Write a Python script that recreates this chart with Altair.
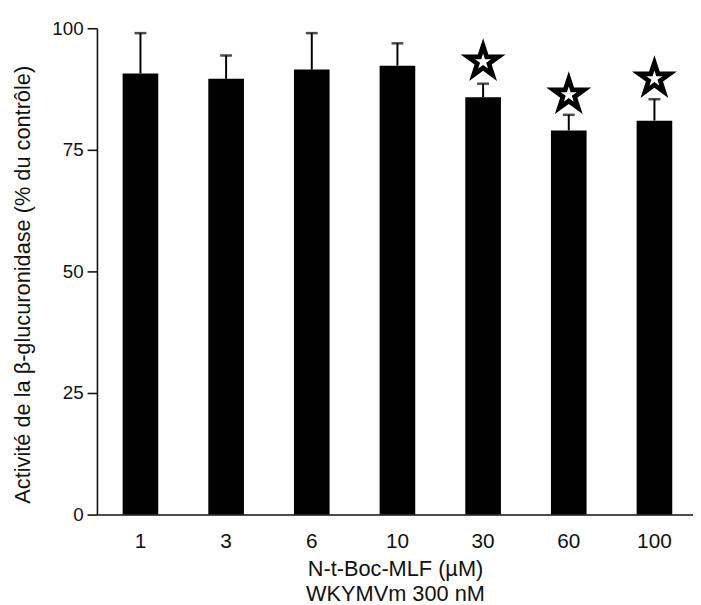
import math
import altair as alt
import pandas as pd

concentrations = ["1", "3", "6", "10", "30", "60", "100"]
activity = [90.7, 89.6, 91.5, 92.3, 85.8, 79.0, 81.0]
error_top = [99.0, 94.4, 99.0, 96.9, 88.6, 82.2, 85.4]
star_conc = ["30", "60", "100"]
star_pos = [93.1, 86.3, 89.6]

df = pd.DataFrame({"conc": concentrations, "activity": activity, "err": error_top})
df_star = pd.DataFrame({"conc": star_conc, "star": star_pos})

FONT = "Liberation Sans"

# five-pointed star symbol as an SVG path in the unit box (top point up)
pts = []
for k in range(10):
    ang = math.radians(-90 + 36 * k)
    r = 1.0 if k % 2 == 0 else 0.382
    pts.append(f"{r * math.cos(ang):.4f},{r * math.sin(ang):.4f}")
STAR = "M" + "L".join(pts) + "Z"

x = alt.X(
    "conc:N",
    sort=concentrations,
    scale=alt.Scale(paddingInner=0.584, paddingOuter=0.271, align=0.553),
    axis=alt.Axis(
        title=["N-t-Boc-MLF (µM)", "WKYMVm 300 nM"],
        orient="bottom",
        labelAngle=0,
        labelFontSize=21,
        labelFont=FONT,
        labelColor="#111",
        labelBaseline="middle",
        labelPadding=27,
        ticks=False,
        tickSize=0,
        domainColor="#111",
        domainWidth=1.6,
        titleFontSize=22,
        titleFont=FONT,
        titleFontWeight="normal",
        titleColor="#111",
        titleBaseline="middle",
        titleLineHeight=25,
        titleY=55,
    ),
)

y_scale = alt.Scale(domain=[0, 100])
y_axis = alt.Axis(
    title="Activité de la β-glucuronidase (% du contrôle)",
    orient="left",
    values=[0, 25, 50, 75, 100],
    grid=False,
    labelFontSize=19,
    labelFont=FONT,
    labelColor="#111",
    labelPadding=4,
    tickSize=10,
    tickWidth=1.6,
    tickColor="#111",
    domainColor="#111",
    domainWidth=1.6,
    titleFontSize=22,
    titleFont=FONT,
    titleFontWeight="normal",
    titleColor="#111",
    titleBaseline="middle",
    titleX=-75,
    titleY=259,
)

xs = alt.X("conc:N", sort=concentrations)

bars = alt.Chart(df).mark_bar(color="black").encode(
    x=x,
    y=alt.Y("activity:Q", scale=y_scale, axis=y_axis),
)

err_line = alt.Chart(df).mark_rule(color="black", strokeWidth=2).encode(
    x=xs,
    y=alt.Y("activity:Q"),
    y2="err:Q",
)

err_cap = alt.Chart(df).mark_tick(color="black", size=12, thickness=2.5).encode(
    x=xs,
    y=alt.Y("err:Q"),
)

stars_outer = alt.Chart(df_star).mark_point(
    shape=STAR, filled=True, color="black", size=2285, opacity=1
).encode(x=xs, y=alt.Y("star:Q"))

stars_inner = alt.Chart(df_star).mark_point(
    shape=STAR, filled=True, color="white", size=290, opacity=1
).encode(x=xs, y=alt.Y("star:Q"))

chart = (
    alt.layer(bars, err_line, err_cap, stars_outer, stars_inner)
    .properties(
        width=603,
        height=492,
        padding={"left": 90, "top": 17, "right": 0, "bottom": 88},
        autosize=alt.AutoSizeParams(type="none"),
        background="white",
    )
    .configure_view(stroke=None)
)

chart.save("out.html", embed_options={"renderer": "svg", "actions": False})
